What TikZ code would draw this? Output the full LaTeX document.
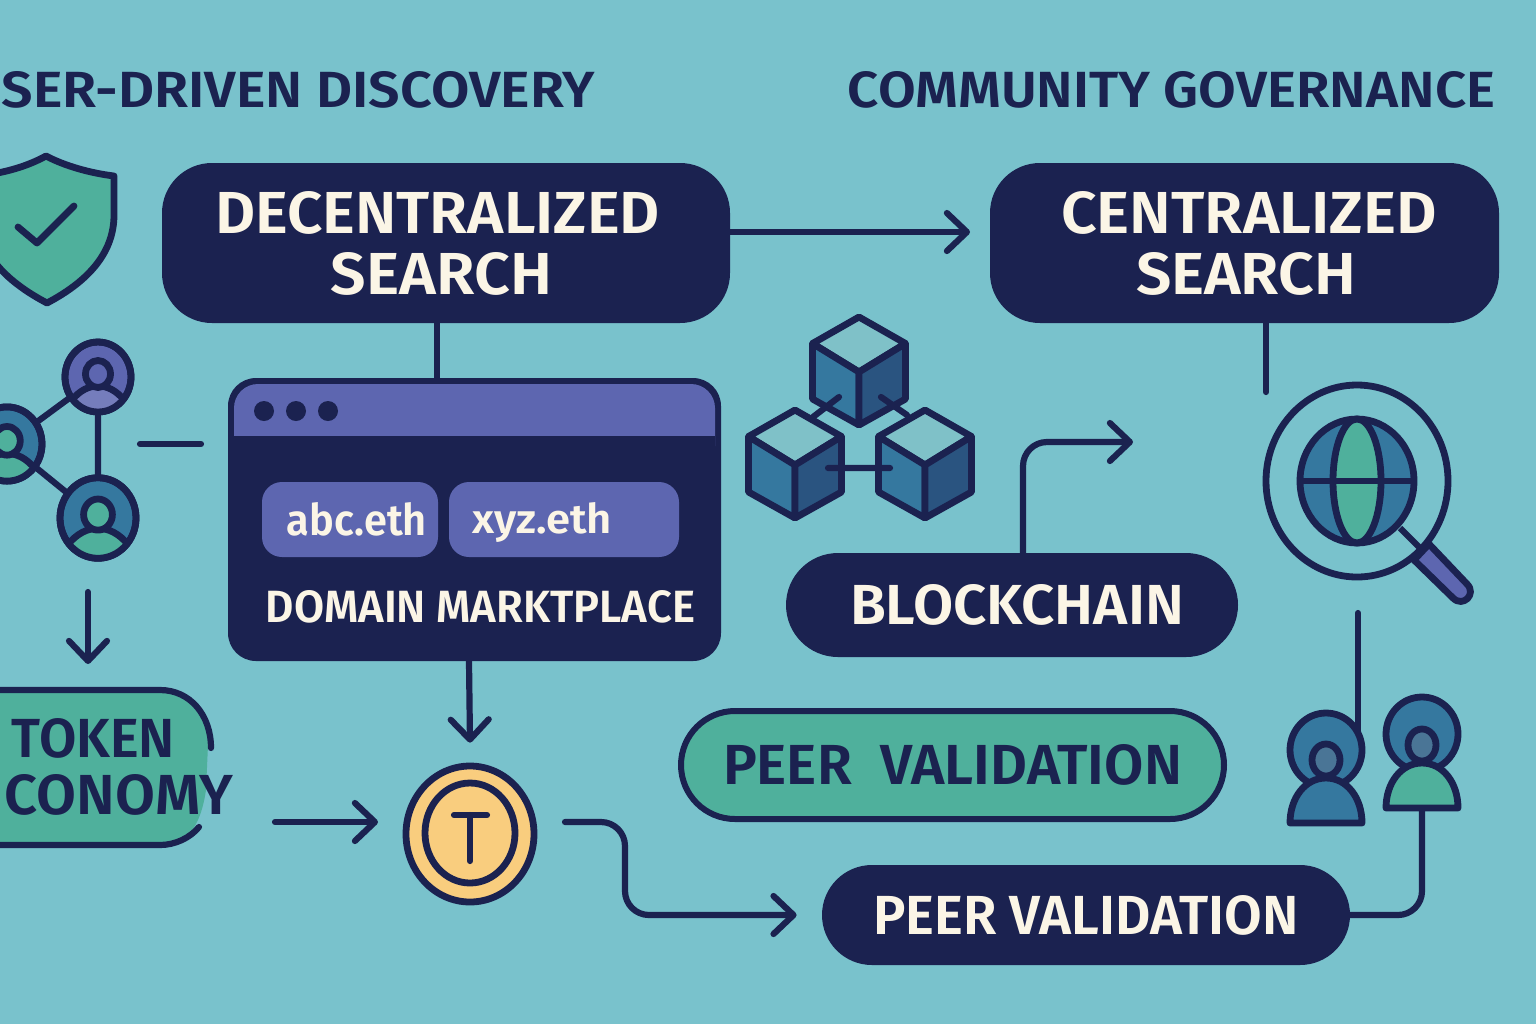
\documentclass[tikz,border=0pt]{standalone}
\usepackage{fontspec}
\usepackage{graphicx}
\setmainfont{Fira Sans}[UprightFont=* SemiBold]
\usetikzlibrary{arrows.meta,shapes.geometric,calc}
\definecolor{bgc}{HTML}{79C2CC}
\definecolor{navy}{HTML}{1B2250}
\definecolor{greenc}{HTML}{4FB09C}
\definecolor{purp}{HTML}{5D66B0}
\definecolor{bluec}{HTML}{35789F}
\definecolor{dblue}{HTML}{2A5480}
\definecolor{yell}{HTML}{F9CD7E}
\definecolor{cream}{HTML}{FBF5E6}
\definecolor{toptint}{HTML}{7FC1C8}
\definecolor{greyb}{HTML}{4A7596}
\newcommand{\fitbox}[3]{\resizebox{\dimexpr#1pt/2\relax}{\dimexpr#2pt/2\relax}{#3}}
% network person: name, x, y, radius, bg, head, body
\newcommand{\netperson}[7]{%
  \pgfmathsetmacro{\ry}{#4*1.06}
  \node[icon,ellipse,fill=#5,minimum width=#4pt,minimum height=\ry pt] (#1) at (#2,#3) {};
  \begin{scope}[shift={(#2,#3)}]
    \begin{scope}
      \clip (0,0) ellipse [x radius=#4,y radius=\ry];
      \pgfmathsetmacro{\sc}{#4/33}
      \begin{scope}[scale=\sc]
        \draw[icon,fill=#7] (-27,24) .. controls (-18,13) and (-9,9) .. (0,9) .. controls (9,9) and (18,13) .. (27,24) -- (27,45) -- (-27,45) -- cycle;
        \draw[icon,fill=#6] (0,-3) ellipse [x radius=12.5,y radius=13.5];
      \end{scope}
    \end{scope}
    \draw[icon] (0,0) ellipse [x radius=#4,y radius=\ry];
  \end{scope}}
\newcommand{\cubeicon}[2]{%
  \begin{scope}[shift={(#1,#2)}]
    \draw[icon,fill=toptint] (0,-53) -- (46.5,-26.5) -- (0,2) -- (-46.5,-26.5) -- cycle;
    \draw[icon,fill=bluec] (-46.5,-26.5) -- (0,2) -- (0,55) -- (-46.5,29) -- cycle;
    \draw[icon,fill=dblue] (46.5,-26.5) -- (0,2) -- (0,55) -- (46.5,29) -- cycle;
  \end{scope}}
\begin{document}
\begin{tikzpicture}[x=0.5pt,y=-0.5pt,
  icon/.style={draw=navy,line width=3.4pt,line join=round,line cap=round,inner sep=0pt},
  conn/.style={draw=navy,line width=3.1pt,line cap=round,line join=round},
  arr/.style={conn,-{Straight Barb[length=10pt,width=19pt,round]}},
  navybox/.style={fill=navy,text=cream,inner sep=0pt,align=center},
  titlelab/.style={text=navy,inner sep=0pt},
  ]
\useasboundingbox (0,0) rectangle (1536,1024);
\fill[bgc] (0,0) rectangle (1536,1024);
\begin{scope}
\clip (0,0) rectangle (1536,1024);

% titles
\node[titlelab] (t1) at (298.5,90) {\fitbox{593}{36}{SER-DRIVEN DISCOVERY}};
\node[titlelab] (t2) at (1171.5,90) {\fitbox{647}{36}{COMMUNITY GOVERNANCE}};

% main boxes
\node[navybox,minimum width=284pt,minimum height=80pt,rounded corners=25pt,font=\fontsize{30}{30.5pt}\selectfont] (decentral) at (446,243) {\fitbox{445}{42}{DECENTRALIZED}\hspace*{8.5pt}\\\fitbox{221}{42}{SEARCH}\hspace*{4.5pt}};
\node[navybox,minimum width=254.5pt,minimum height=80pt,rounded corners=25pt,font=\fontsize{30}{30.5pt}\selectfont] (central) at (1244.5,243) {\hspace*{4.5pt}\fitbox{376}{42}{CENTRALIZED}\\\hspace*{1.5pt}\fitbox{220}{42}{SEARCH}};
\node[navybox,minimum width=246.5pt,minimum height=141.5pt,rounded corners=14pt] (browser) at (474.5,519.5) {};
\fill[purp,rounded corners=12pt] (234,384) rectangle (715,470);
\fill[navy] (234,436) rectangle (715,480);
\node[fill=navy,circle,minimum size=10pt,inner sep=0pt] (d1) at (264,411) {};
\node[fill=navy,circle,minimum size=10pt,inner sep=0pt] (d2) at (296,411) {};
\node[fill=navy,circle,minimum size=10pt,inner sep=0pt] (d3) at (328,411) {};
\node[fill=purp,text=cream,rounded corners=10pt,minimum width=88pt,minimum height=37.5pt,inner sep=0pt] (abc) at (350,519.5) {\hspace*{7pt}\fitbox{140}{33}{abc.eth}};
\node[fill=purp,text=cream,rounded corners=10pt,minimum width=115pt,minimum height=37.5pt,inner sep=0pt] (xyz) at (564,519.5) {\hspace{-22pt}\raisebox{-6.75pt}[0pt][0pt]{\fitbox{140}{31}{xyz.eth}}};
\node[text=cream,inner sep=0pt] (market) at (480.5,607) {\fitbox{429}{32}{DOMAIN MARKTPLACE}};

\node[navybox,minimum width=226pt,minimum height=52pt,rounded corners=26pt] (chain) at (1012,605) {\hspace*{5pt}\fitbox{334}{40}{BLOCKCHAIN}};
\node[draw=navy,line width=3pt,fill=greenc,text=navy,inner sep=0pt,minimum width=271.5pt,minimum height=54pt,rounded corners=27pt] (peerg) at (952.5,765) {\fitbox{459}{40}{PEER\hspace{0.25em} VALIDATION}};
\node[navybox,minimum width=264pt,minimum height=50pt,rounded corners=25pt] (peerb) at (1086,915) {\fitbox{426}{39}{PEER VALIDATION}};

% token economy
\fill[greenc] (-40,690) -- (160,690) .. controls (190,690) and (208,715) .. (208,745) -- (206,790) .. controls (200,830) and (185,845) .. (160,845) -- (-40,845) -- cycle;
\draw[conn] (-40,690) -- (160,690) .. controls (190,690) and (211,715) .. (211,748);
\draw[conn] (-40,845) -- (160,845) .. controls (175,845) and (190,838) .. (199,827);
\node[titlelab] (tok1) at (93.5,738) {\fitbox{163}{39}{TOKEN}};
\node[titlelab] (tok2) at (119,795) {\fitbox{228}{40}{CONOMY}};

% free ends of the connectors
\coordinate (cenin) at (970,232);
\coordinate (cenout) at (1266,392);
\coordinate (linea) at (140,444);
\coordinate (lineb) at (201,444);
\coordinate (downa) at (88,592);
\coordinate (downb) at (88,664);
\coordinate (toka) at (275,822);
\coordinate (tokb) at (378,822);
\coordinate (coinout) at (565,822);
\coordinate (turnb) at (625,915);
\coordinate (chainb) at (1133,442);
\coordinate (magout) at (1358,613);
\coordinate (perin) at (1358,745);
\coordinate (rbase) at (1422,808);

% coin
\node[icon,ellipse,fill=yell,minimum width=64pt,minimum height=68pt] (coin) at (470,834) {};
\node[icon,ellipse,minimum width=45pt,minimum height=50pt] (coinin) at (470,833) {};
\coordinate (tl) at (454,815);
\coordinate (tr) at (487,815);
\coordinate (tm) at (470,815);
\coordinate (tb) at (470,861);
\draw[conn] (tl) -- (tr) (tm) -- (tb);

% connectors
\draw[arr] ([yshift=5.5pt]decentral.east) -- (cenin);
\draw[conn] ([xshift=-4.5pt]decentral.south) -- ([xshift=-18.75pt]browser.north);
\draw[conn] ([xshift=10.75pt]central.south) -- (cenout);
\draw[conn] (linea) -- (lineb);
\draw[arr] (downa) -- (downb);
\draw[arr] (toka) -- (tokb);
\draw[arr] ([xshift=-2.75pt]browser.south) -- ([yshift=10pt]coin.north);
\draw[arr,rounded corners=12pt] (coinout) -| (turnb) -- ([xshift=-12.5pt]peerb.west);
\draw[arr,rounded corners=12pt] ([xshift=5.5pt]chain.north) |- (chainb);
\draw[conn] (magout) -- (perin);
\draw[conn,rounded corners=12pt] (peerb.east) -| (rbase);

% shield
\draw[icon,fill=greenc] (46,156) .. controls (65,166) and (90,173) .. (114,176) -- (114,215) .. controls (114,255) and (85,283) .. (47,303) .. controls (9,283) and (-22,255) .. (-22,215) -- (-22,176) .. controls (5,173) and (28,166) .. (46,156) -- cycle;
\coordinate (ck1) at (18,227);
\coordinate (ck2) at (37,243);
\coordinate (ck3) at (74,206);
\draw[icon] (ck1) -- (ck2) -- (ck3);

% network
\coordinate (ntop) at (98,377);
\coordinate (nleft) at (7,444);
\coordinate (nbot) at (98,518);
\draw[conn] (ntop) -- (nleft) -- (nbot) -- (ntop);
\netperson{pa}{98}{377}{33}{purp}{purp}{purp!85!white}
\netperson{pb}{7}{444}{35}{bluec}{greenc}{greenc}
\netperson{pc}{98}{518}{38}{bluec}{greenc}{greenc}

% cubes
\cubeicon{859}{370}
\cubeicon{795}{463}
\cubeicon{925}{463}
\coordinate (la) at (839,397);\coordinate (lb) at (813,417);
\coordinate (lc) at (881,397);\coordinate (ld) at (907,415);
\coordinate (le) at (828,468);\coordinate (lf) at (890,468);
\draw[conn] (la) -- (lb) (lc) -- (ld) (le) -- (lf);

% magnifier
\node[icon,ellipse,minimum width=91pt,minimum height=96pt] (ring) at (1357,481) {};
\node[icon,ellipse,fill=bluec,minimum width=57pt,minimum height=62pt] (globe) at (1357,481) {};
\node[icon,ellipse,fill=greenc,minimum width=24pt,minimum height=62pt] (merid) at (1357,481) {};
\draw[conn,line cap=butt] (globe.center -| globe.west) -- (globe.center -| globe.east);
\coordinate (ha) at (1400,528);
\coordinate (hb) at (1420,548);
\draw[conn,line cap=butt] (ha) -- (hb);
\draw[icon,fill=purp] (1429,544) -- (1467,584) .. controls (1477,594) and (1463,608) .. (1453,598) -- (1414,560) -- cycle;

% people
\node[icon,ellipse,fill=bluec,minimum width=36pt,minimum height=37pt] (lhead) at (1326,750) {};
\node[icon,ellipse,fill=greyb,minimum width=14pt,minimum height=16pt] (lface) at (1326,760) {};
\draw[icon,fill=bluec] (1290,823) .. controls (1290,798) and (1305,778) .. (1326,778) .. controls (1347,778) and (1362,798) .. (1362,823) -- cycle;
\node[icon,ellipse,fill=bluec,minimum width=36pt,minimum height=37pt] (rhead) at (1422,734) {};
\node[icon,ellipse,fill=greyb,minimum width=14pt,minimum height=16pt] (rface) at (1422,745) {};
\draw[icon,fill=greenc] (1386,808) .. controls (1386,783) and (1401,763) .. (1422,763) .. controls (1443,763) and (1458,783) .. (1458,808) -- cycle;
\end{scope}
\end{tikzpicture}
\end{document}
